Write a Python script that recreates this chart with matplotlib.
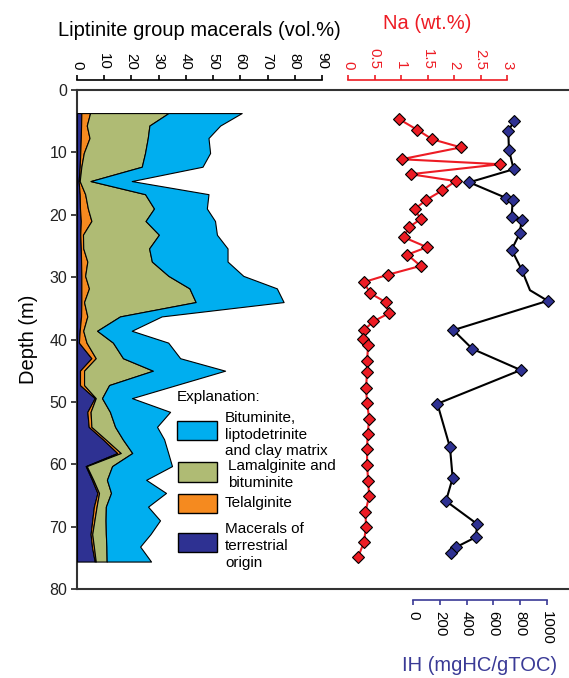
import matplotlib
matplotlib.use("Agg")
import matplotlib.pyplot as plt
from matplotlib.patches import Rectangle
import numpy as np

plt.rcParams['font.family'] = ['Liberation Sans', 'DejaVu Sans']

# ---------------- data ----------------
depth_mac = [3.7, 5.7, 7.7, 10.1, 12.3, 14.6, 16.7, 19.0, 21.0, 23.2, 25.4, 27.5,
             29.8, 31.8, 34.0, 36.3, 38.6, 40.5, 43.0, 45.0, 47.3, 49.4, 51.6, 54.0,
             56.0, 58.2, 60.3, 62.5, 64.6, 66.8, 69.0, 71.2, 73.2, 75.6]
# cumulative boundaries (vol.%)
terrestrial_top = [1.6, 1.5, 1.4, 1.2, 1.0, 0.6, 1.0, 1.1, 1.4, 1.2, 1.4, 1.5,
                   1.6, 1.6, 1.6, 1.5, 1.0, 0.7, 5.3, 1.1, 1.1, 6.5, 3.8, 4.3,
                   9.5, 14.8, 3.2, 5.5, 7.5, 6.2, 5.6, 5.0, 5.5, 6.5]
telalginite_top = [4.8, 3.6, 4.6, 2.5, 1.6, 1.0, 3.0, 4.0, 5.3, 2.2, 2.3, 3.8,
                   3.0, 4.4, 2.6, 3.8, 2.3, 3.5, 6.9, 2.6, 2.6, 6.9, 5.0, 5.3,
                   10.5, 16.1, 3.6, 6.0, 8.1, 7.2, 6.4, 5.6, 6.2, 6.9]
lamalginite_top = [33.6, 26.6, 26.0, 25.0, 23.8, 5.0, 25.0, 28.3, 25.2, 30.1, 26.5, 27.5,
                   33.6, 41.3, 43.6, 15.8, 7.4, 13.2, 16.9, 27.9, 11.8, 9.2, 12.1, 14.0,
                   16.8, 20.3, 12.9, 11.0, 12.5, 10.6, 10.5, 10.6, 10.8, 10.9]
bituminite_top = [60.5, 52.6, 48.3, 48.9, 46.1, 20.1, 48.3, 47.7, 50.7, 51.4, 55.3, 55.3,
                  61.1, 73.4, 75.9, 31.1, 20.1, 33.5, 37.9, 54.4, 36.5, 20.2, 34.2, 29.4,
                  32.0, 33.5, 34.9, 25.4, 32.7, 26.1, 30.5, 27.0, 23.2, 27.2]

na_depth = [4.7, 6.4, 7.9, 9.2, 11.1, 11.9, 13.5, 14.6, 16.1, 17.6, 19.1, 20.7, 22.0,
            23.6, 25.2, 26.4, 28.2, 29.6, 30.8, 32.6, 34.0, 35.8, 37.1, 38.5, 39.9,
            40.9, 43.4, 45.2, 47.8, 50.2, 52.7, 55.2, 57.6, 60.1, 62.7, 65.1, 67.6,
            70.1, 72.5, 74.9]
na_value = [0.97, 1.31, 1.59, 2.13, 1.01, 2.87, 1.18, 2.03, 1.78, 1.48, 1.26, 1.37, 1.15,
            1.05, 1.49, 1.12, 1.37, 0.76, 0.30, 0.42, 0.71, 0.77, 0.48, 0.30, 0.29,
            0.38, 0.36, 0.36, 0.34, 0.36, 0.40, 0.37, 0.36, 0.36, 0.38, 0.40, 0.33,
            0.34, 0.30, 0.19]

ih_depth = [4.9, 6.6, 9.6, 12.7, 14.8, 17.3, 17.7, 20.3, 20.8, 23.0, 25.6, 28.9, 32.1,
            33.8, 38.5, 41.5, 44.9, 50.3, 57.3, 62.2, 65.9, 69.6, 71.7, 73.3, 74.3]
ih_value = [756, 711, 716, 751, 420, 694, 744, 736, 811, 796, 736, 813, 873,
            1005, 301, 443, 804, 182, 276, 296, 246, 480, 468, 321, 286]
ih_marked = [i for i in range(len(ih_depth)) if i != 12]

mac_ticks = [0, 10, 20, 30, 40, 50, 60, 70, 80, 90]
na_ticks = [0, 0.5, 1, 1.5, 2, 2.5, 3]
na_ticklabels = ['0', '0.5', '1', '1.5', '2', '2.5', '3']
ih_ticks = [0, 200, 400, 600, 800, 1000]
depth_ticks = [0, 10, 20, 30, 40, 50, 60, 70, 80]

legend_labels = ['Bituminite,\nliptodetrinite\nand clay matrix',
                 'Lamalginite and\nbituminite',
                 'Telalginite',
                 'Macerals of\nterrestrial\norigin']

C_BLUE = '#00AEEF'
C_GREEN = '#AFBB74'
C_ORANGE = '#F58A1F'
C_NAVY = '#2E3192'
C_RED = '#ED1C24'
C_IH = '#3A3A96'

# ---------------- layout ----------------
W, H = 569, 678
fig = plt.figure(figsize=(W / 100, H / 100), dpi=100)

def fx(px):
    return px / W

def fy(py):
    return 1 - py / H

Y0, Y1 = 90, 589
bottom = fy(Y1)
height = fy(Y0) - fy(Y1)

def mk_axes(x0, x1):
    return fig.add_axes([fx(x0), bottom, fx(x1) - fx(x0), height])

# frame axes
ax = mk_axes(77, 569)
ax.set_ylim(80, 0)
ax.set_xlim(0, 1)
ax.set_xticks([])
ax.set_yticks(depth_ticks)
ax.tick_params(axis='y', direction='out', length=4, width=1.2, labelsize=11.5, pad=3,
               colors='#222222')
for s in ['top', 'bottom', 'left']:
    ax.spines[s].set_linewidth(1.5)
    ax.spines[s].set_color('#333333')
ax.spines['right'].set_visible(False)
ax.set_ylabel('Depth (m)', fontsize=14.5, labelpad=8)
ax.patch.set_visible(False)

TICKLEN = 3.6
LBL = 10.8

# macerals axes
axl = mk_axes(77, 322)
axl.set_ylim(80, 0)
axl.set_xlim(0, 90)
axl.patch.set_visible(False)
for s in ['bottom', 'left', 'right']:
    axl.spines[s].set_visible(False)
axl.spines['top'].set_position(('outward', 7.2))
axl.spines['top'].set_bounds(0, 90)
axl.spines['top'].set_linewidth(1.2)
axl.set_yticks([])
axl.xaxis.set_ticks_position('top')
axl.xaxis.set_label_position('top')
axl.set_xticks(mac_ticks)
axl.tick_params(axis='x', direction='out', length=TICKLEN, width=1.2, labelsize=LBL,
                labelrotation=-90, pad=4)
axl.set_xlabel('Liptinite group macerals (vol.%)', fontsize=14.5, labelpad=12)

zeros = np.zeros(len(depth_mac))
layers = [(zeros, terrestrial_top, C_NAVY),
          (terrestrial_top, telalginite_top, C_ORANGE),
          (telalginite_top, lamalginite_top, C_GREEN),
          (lamalginite_top, bituminite_top, C_BLUE)]
for lo, hi, c in layers:
    axl.fill_betweenx(depth_mac, lo, hi, facecolor=c, edgecolor='black', linewidth=0.8)

# Na axes
axn = mk_axes(348, 507)
axn.set_ylim(80, 0)
axn.set_xlim(0, 3)
axn.patch.set_visible(False)
for s in ['bottom', 'left', 'right']:
    axn.spines[s].set_visible(False)
axn.spines['top'].set_position(('outward', 7.2))
axn.spines['top'].set_bounds(0, 3)
axn.spines['top'].set_color(C_RED)
axn.spines['top'].set_linewidth(1.2)
axn.set_yticks([])
axn.xaxis.set_ticks_position('top')
axn.xaxis.set_label_position('top')
axn.set_xticks(na_ticks)
axn.set_xticklabels(na_ticklabels)
axn.tick_params(axis='x', direction='out', length=TICKLEN, width=1.2, labelsize=LBL,
                labelrotation=-90, pad=4, colors=C_RED)
axn.set_xlabel('Na (wt.%)', fontsize=14.5, labelpad=14, color=C_RED)
axn.plot(na_value, na_depth, color=C_RED, lw=1.5, marker='D', markersize=6.5,
         markerfacecolor=C_RED, markeredgecolor='black', markeredgewidth=0.8,
         clip_on=False, zorder=3)

# IH axes
axi = mk_axes(413, 547)
axi.set_ylim(80, 0)
axi.set_xlim(0, 1000)
axi.patch.set_visible(False)
for s in ['top', 'left', 'right']:
    axi.spines[s].set_visible(False)
axi.spines['bottom'].set_position(('outward', 8))
axi.spines['bottom'].set_bounds(0, 1000)
axi.spines['bottom'].set_color(C_IH)
axi.spines['bottom'].set_linewidth(1.2)
axi.set_yticks([])
axi.set_xticks(ih_ticks)
axi.tick_params(axis='x', direction='out', length=TICKLEN, width=1.2, labelsize=LBL,
                labelrotation=-90, pad=4, colors=C_IH, labelcolor='black')
axi.set_xlabel('IH (mgHC/gTOC)', fontsize=14.5, labelpad=8, color=C_IH)
axi.plot(ih_value, ih_depth, color='black', lw=1.5, marker='D', markersize=6.5,
         markevery=ih_marked, markerfacecolor=C_NAVY, markeredgecolor='black',
         markeredgewidth=0.8, clip_on=False, zorder=3)

# ---------------- legend ----------------
fig.text(fx(177), fy(397), 'Explanation:', fontsize=11, va='center', ha='left')
leg_rects = [(177, 421, 217, 440, C_BLUE),
             (178, 462, 217, 482, C_GREEN),
             (178, 494, 217, 513, C_ORANGE),
             (178, 533, 217, 552, C_NAVY)]
leg_text = [(225, 434.5), (228, 474.5), (225, 503), (225, 546)]
for (x0, y0, x1, y1, c), (tx, ty), lab in zip(leg_rects, leg_text, legend_labels):
    fig.patches.append(Rectangle((fx(x0), fy(y1)), fx(x1) - fx(x0), fy(y0) - fy(y1),
                                 transform=fig.transFigure, facecolor=c,
                                 edgecolor='black', linewidth=1.0))
    fig.text(fx(tx), fy(ty), lab, fontsize=11, va='center', ha='left', linespacing=1.25)

fig.savefig('out.png', dpi=100)
